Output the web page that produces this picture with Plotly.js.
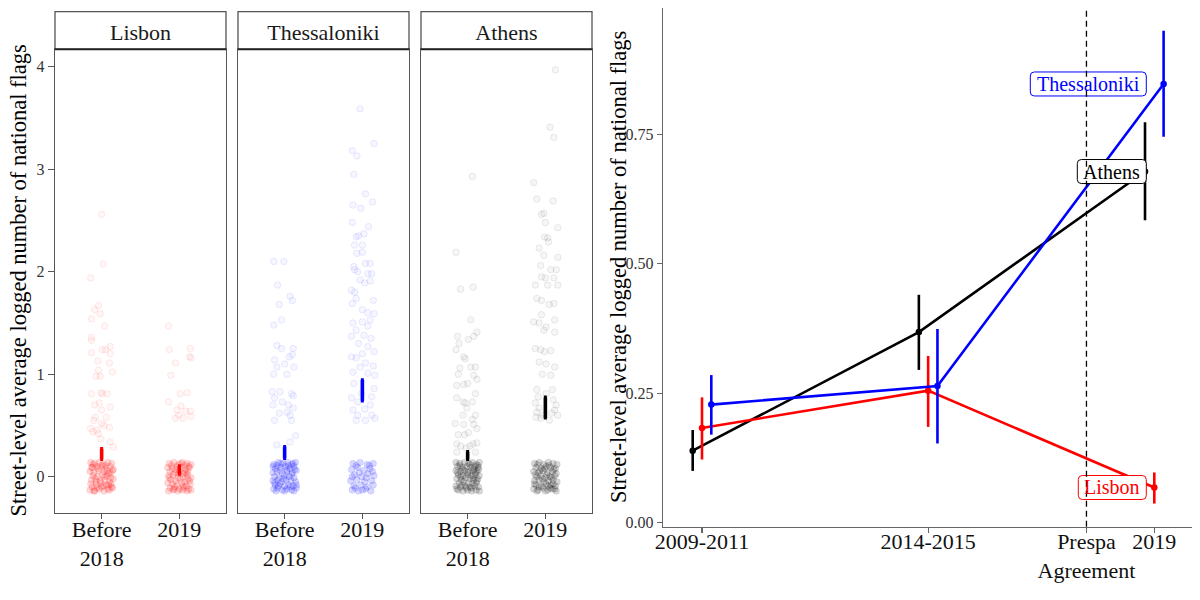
<!DOCTYPE html>
<html>
<head>
<meta charset="utf-8">
<script src="https://cdn.plot.ly/plotly-3.0.1.min.js"></script>
<style>html,body{margin:0;padding:0;background:#fff}#chart{width:1200px;height:600px}</style>
</head>
<body>
<div id="chart"></div>
<script>
// ---------------- DATA ----------------
const cities = ['Lisbon', 'Thessaloniki', 'Athens'];
const facetTickText = ['Before<br>2018', '2019'];

// Jittered street-level points: [horizontal jitter offset, value]
const lisbonBefore = [[0.0,2.56],[0.02,2.075],[-0.14,1.94],[-0.04,1.67],[-0.09,1.63],[-0.02,1.59],[-0.13,1.54],[0.04,1.47],[-0.13,1.36],[-0.13,1.33],[0.01,1.24],[0.05,1.24],[0.11,1.27],[-0.13,1.21],[0.11,1.2],[-0.05,1.13],[0.10,1.11],[-0.04,1.04],[0.14,1.02],[-0.07,0.98],[-0.02,0.98],[-0.13,0.81],[-0.01,0.82],[0.01,0.81],[0.07,0.81],[-0.03,0.72],[-0.09,0.70],[0.11,0.68],[0.0,0.65],[-0.08,0.58],[0.06,0.58],[-0.10,0.55],[0.03,0.50],[0.10,0.48],[-0.14,0.47],[-0.11,0.44],[-0.04,0.42],[-0.01,0.37],[0.11,0.34],[0.15,0.29],[-0.06,0.455],[0.0,0.52]];
const lisbon2019 = [[-0.14,1.47],[-0.13,1.24],[0.14,1.25],[0.13,1.17],[0.15,1.16],[-0.05,1.11],[-0.11,0.99],[0.01,0.81],[0.10,0.82],[-0.14,0.73],[0.02,0.69],[-0.03,0.65],[0.08,0.64],[0.14,0.64],[-0.05,0.57],[0.05,0.57],[0.15,0.59],[-0.01,0.60]];
const thessBefore = [[-0.14,2.10],[-0.01,2.10],[-0.09,1.87],[0.07,1.76],[0.10,1.72],[-0.07,1.68],[-0.04,1.53],[-0.14,1.48],[-0.10,1.28],[-0.04,1.25],[0.11,1.25],[-0.13,1.14],[0.06,1.17],[0.10,1.19],[0.0,1.10],[-0.10,1.07],[0.12,1.07],[-0.14,1.0],[0.03,1.0],[-0.16,0.83],[-0.06,0.83],[0.09,0.81],[0.11,0.79],[-0.13,0.77],[-0.03,0.73],[-0.15,0.70],[0.05,0.70],[0.11,0.67],[0.03,0.63],[-0.07,0.62],[0.07,0.60],[-0.13,0.55],[0.09,0.55],[0.14,0.40],[0.07,0.34],[-0.10,0.31]];
const thess2019 = [[-0.03,3.59],[0.15,3.25],[-0.13,3.18],[-0.07,3.13],[-0.11,2.95],[0.04,2.76],[0.13,2.68],[-0.12,2.65],[-0.02,2.62],[-0.13,2.48],[0.08,2.44],[0.02,2.37],[-0.08,2.34],[-0.05,2.35],[-0.10,2.26],[0.0,2.26],[-0.07,2.18],[0.0,2.19],[-0.11,2.05],[0.04,2.08],[0.10,2.08],[-0.10,2.02],[-0.06,2.0],[0.07,1.98],[0.12,1.98],[-0.03,1.92],[0.10,1.91],[0.03,1.89],[-0.14,1.82],[-0.10,1.80],[-0.08,1.74],[-0.13,1.69],[0.14,1.72],[0.0,1.63],[0.07,1.60],[0.15,1.59],[0.10,1.53],[-0.12,1.50],[0.0,1.51],[0.07,1.47],[-0.08,1.43],[-0.14,1.37],[0.02,1.38],[0.11,1.35],[-0.05,1.30],[0.07,1.27],[0.15,1.22],[-0.14,1.17],[-0.08,1.16],[0.0,1.20],[0.04,1.11],[0.14,1.08],[-0.03,1.07],[-0.12,1.02],[0.07,1.01],[0.16,0.99],[-0.11,0.91],[-0.14,0.77],[-0.06,0.73],[0.12,0.78],[0.10,0.70],[0.03,0.66],[-0.12,0.65],[-0.06,0.60],[0.12,0.60],[-0.08,0.55],[0.04,0.55],[0.16,0.57],[-0.01,0.81],[0.15,0.86]];
const athensBefore = [[0.06,2.93],[-0.15,2.19],[-0.09,1.83],[0.07,1.85],[0.04,1.53],[0.12,1.41],[-0.13,1.37],[0.08,1.37],[0.01,1.34],[-0.11,1.30],[-0.15,1.24],[-0.05,1.17],[-0.03,1.15],[0.04,1.07],[0.10,1.07],[-0.10,1.06],[-0.12,1.0],[0.08,0.99],[0.12,0.95],[-0.14,0.89],[-0.05,0.90],[0.0,0.91],[0.10,0.81],[-0.14,0.77],[-0.06,0.73],[-0.03,0.72],[0.06,0.73],[-0.01,0.67],[-0.06,0.60],[0.10,0.60],[0.06,0.56],[-0.16,0.52],[-0.05,0.51],[0.08,0.51],[0.12,0.47],[0.01,0.43],[-0.12,0.41],[-0.04,0.41],[-0.14,0.32],[-0.09,0.30],[0.07,0.32],[0.12,0.33],[0.03,0.30],[-0.02,0.28],[-0.14,0.24],[0.10,0.24]];
const athens2019 = [[0.13,3.97],[0.06,3.41],[0.11,3.31],[-0.15,2.87],[-0.11,2.71],[0.10,2.69],[-0.05,2.56],[-0.02,2.57],[0.0,2.48],[0.16,2.43],[-0.01,2.34],[0.03,2.33],[0.04,2.29],[-0.08,2.23],[-0.02,2.16],[0.16,2.14],[-0.06,2.06],[0.07,2.02],[0.14,2.02],[-0.05,1.95],[0.0,1.94],[0.11,1.94],[-0.13,1.87],[0.03,1.87],[0.16,1.87],[-0.11,1.74],[-0.05,1.72],[0.05,1.68],[0.11,1.69],[-0.05,1.58],[-0.15,1.51],[-0.08,1.50],[0.01,1.46],[0.12,1.53],[-0.02,1.43],[0.12,1.41],[-0.13,1.25],[-0.06,1.24],[-0.01,1.22],[0.07,1.23],[-0.08,1.12],[0.01,1.10],[0.12,1.07],[-0.04,1.0],[0.07,0.99],[-0.11,0.85],[0.09,0.85],[0.01,0.81],[-0.13,0.72],[-0.08,0.67],[0.14,0.70],[0.16,0.60],[-0.06,0.57],[0.05,0.55],[-0.11,0.63],[0.12,0.65],[-0.03,0.60],[0.08,0.62],[-0.12,0.58],[0.10,0.75],[-0.09,0.78]];

// Streets with zero flags (value 0, jittered) - dense clusters, estimated
const lisbonBeforeZero = [[-0.14,0.14],[-0.09,0.13],[-0.03,0.14],[0.02,0.12],[0.08,0.14],[0.13,0.13],[-0.12,0.09],[-0.06,0.1],[0.0,0.11],[0.05,0.08],[0.11,0.1],[0.15,0.07],[-0.15,0.05],[-0.1,0.04],[-0.04,0.06],[0.03,0.05],[0.09,0.03],[0.14,0.06],[-0.11,0.01],[-0.05,0.0],[0.01,0.02],[0.07,0.01],[0.12,-0.01],[-0.13,-0.03],[-0.08,-0.02],[-0.02,-0.04],[0.04,-0.03],[0.1,-0.05],[0.15,-0.02],[-0.14,-0.07],[-0.07,-0.08],[-0.01,-0.06],[0.06,-0.08],[0.12,-0.07],[-0.12,-0.1],[-0.06,-0.11],[0.02,-0.09],[0.08,-0.12],[0.13,-0.1],[-0.15,-0.13],[-0.09,-0.14],[-0.03,-0.12],[0.03,-0.14],[0.1,-0.13],[-0.11,0.12],[-0.04,0.08],[0.05,0.11],[0.11,0.04],[-0.13,0.09],[-0.07,-0.05],[0.0,-0.1],[0.07,0.06],[0.14,-0.11],[-0.1,-0.14],[0.04,0.0],[0.09,-0.08]];
const lisbon2019Zero = [[-0.13,0.13],[-0.07,0.14],[-0.01,0.12],[0.04,0.14],[0.1,0.13],[0.15,0.12],[-0.15,0.09],[-0.09,0.08],[-0.03,0.1],[0.03,0.09],[0.08,0.07],[0.13,0.09],[-0.12,0.05],[-0.06,0.04],[0.0,0.06],[0.06,0.03],[0.11,0.05],[-0.14,0.01],[-0.08,0.02],[-0.02,-0.01],[0.05,0.0],[0.1,0.02],[0.15,-0.01],[-0.11,-0.03],[-0.05,-0.04],[0.01,-0.02],[0.07,-0.05],[0.13,-0.04],[-0.15,-0.06],[-0.09,-0.07],[-0.03,-0.08],[0.03,-0.06],[0.09,-0.09],[0.14,-0.07],[-0.12,-0.11],[-0.06,-0.1],[0.0,-0.12],[0.06,-0.11],[0.12,-0.12],[-0.14,-0.14],[-0.08,-0.13],[-0.02,-0.14],[0.04,-0.13],[0.1,-0.14],[-0.1,0.11],[0.02,0.13],[0.12,0.1],[-0.04,0.07],[0.08,0.04],[-0.13,-0.01],[0.11,-0.02],[-0.07,-0.12],[0.05,-0.09],[0.15,-0.13],[-0.01,0.03],[0.07,0.11]];
const thessBeforeZero = [[-0.14,0.12],[-0.08,0.14],[-0.02,0.13],[0.04,0.14],[0.09,0.12],[0.14,0.14],[-0.12,0.08],[-0.05,0.09],[0.01,0.1],[0.07,0.08],[0.12,0.1],[-0.15,0.04],[-0.1,0.05],[-0.03,0.03],[0.03,0.05],[0.1,0.04],[0.15,0.06],[-0.13,0.0],[-0.07,-0.01],[0.0,0.01],[0.06,0.0],[0.12,-0.01],[-0.15,-0.04],[-0.09,-0.03],[-0.04,-0.05],[0.02,-0.03],[0.08,-0.04],[0.14,-0.05],[-0.12,-0.08],[-0.06,-0.07],[0.0,-0.09],[0.05,-0.08],[0.11,-0.09],[-0.14,-0.12],[-0.09,-0.11],[-0.03,-0.13],[0.03,-0.12],[0.09,-0.13],[0.15,-0.11],[-0.11,-0.14],[0.0,-0.14],[0.12,-0.14],[-0.1,0.11],[0.05,0.11],[-0.06,0.06],[0.13,0.07],[-0.01,-0.02],[0.09,0.02],[-0.13,-0.06],[0.07,-0.1],[-0.05,0.13],[0.11,0.13],[-0.08,-0.09],[0.03,0.07],[-0.15,0.1],[0.15,-0.08]];
const thess2019Zero = [[-0.12,0.13],[-0.03,0.14],[0.06,0.12],[0.14,0.13],[-0.14,0.07],[-0.06,0.09],[0.02,0.06],[0.1,0.08],[-0.1,0.02],[-0.01,0.0],[0.07,0.03],[0.15,0.01],[-0.15,-0.04],[-0.07,-0.03],[0.03,-0.05],[0.12,-0.04],[-0.11,-0.09],[-0.02,-0.08],[0.06,-0.1],[0.14,-0.08],[-0.13,-0.13],[-0.05,-0.14],[0.04,-0.12],[0.11,-0.14],[-0.08,0.11],[0.09,0.11],[-0.04,0.04],[0.05,-0.01],[-0.09,-0.11],[0.0,-0.13],[0.13,0.05],[-0.13,0.0]];
const athensBeforeZero = [[-0.15,0.14],[-0.1,0.13],[-0.04,0.14],[0.01,0.13],[0.06,0.14],[0.11,0.12],[0.15,0.14],[-0.13,0.1],[-0.07,0.09],[-0.01,0.1],[0.04,0.09],[0.09,0.1],[0.14,0.09],[-0.15,0.06],[-0.09,0.05],[-0.04,0.06],[0.02,0.05],[0.07,0.06],[0.12,0.05],[-0.12,0.02],[-0.06,0.01],[0.0,0.02],[0.05,0.01],[0.1,0.02],[0.15,0.01],[-0.14,-0.02],[-0.08,-0.03],[-0.03,-0.01],[0.03,-0.02],[0.08,-0.03],[0.13,-0.02],[-0.11,-0.06],[-0.05,-0.05],[0.01,-0.06],[0.06,-0.07],[0.11,-0.06],[-0.15,-0.09],[-0.09,-0.1],[-0.03,-0.09],[0.03,-0.1],[0.09,-0.09],[0.14,-0.1],[-0.12,-0.13],[-0.06,-0.14],[0.0,-0.13],[0.05,-0.14],[0.11,-0.13],[0.15,-0.14],[-0.1,0.11],[0.03,0.12],[0.13,0.11],[-0.06,0.07],[0.08,0.07],[-0.13,0.04],[0.0,0.04],[0.12,-0.04],[-0.07,-0.08],[0.05,-0.11],[-0.14,-0.12],[0.1,0.04],[-0.02,-0.11],[0.07,-0.01],[-0.09,0.0],[0.14,0.07]];
const athens2019Zero = [[-0.14,0.13],[-0.08,0.14],[-0.02,0.12],[0.04,0.14],[0.1,0.13],[0.15,0.12],[-0.12,0.09],[-0.05,0.08],[0.01,0.1],[0.07,0.09],[0.13,0.08],[-0.15,0.05],[-0.09,0.04],[-0.03,0.06],[0.03,0.04],[0.09,0.05],[0.14,0.03],[-0.11,0.0],[-0.06,0.01],[0.0,-0.01],[0.06,0.0],[0.12,0.01],[-0.14,-0.04],[-0.08,-0.03],[-0.02,-0.05],[0.04,-0.04],[0.1,-0.03],[0.15,-0.05],[-0.12,-0.08],[-0.05,-0.09],[0.01,-0.07],[0.07,-0.08],[0.13,-0.09],[-0.15,-0.12],[-0.09,-0.13],[-0.03,-0.11],[0.03,-0.13],[0.09,-0.12],[0.14,-0.14],[-0.11,-0.14],[0.0,-0.14],[0.06,-0.11],[-0.1,0.12],[0.05,0.11],[-0.07,0.06],[0.11,0.07],[-0.13,0.02],[0.02,0.02],[0.1,-0.07],[-0.04,-0.02],[-0.08,-0.1],[0.12,-0.12],[-0.01,0.08],[0.08,-0.01],[-0.14,-0.07],[0.04,-0.09]];

// Facet means and 95% CIs: [Before 2018, 2019]
const lisbonFacetMean = [0.222, 0.065];
const lisbonFacetLo   = [0.170, 0.026];
const lisbonFacetHi   = [0.273, 0.104];
const thessFacetMean  = [0.236, 0.843];
const thessFacetLo    = [0.180, 0.742];
const thessFacetHi    = [0.293, 0.943];
const athensFacetMean = [0.207, 0.675];
const athensFacetLo   = [0.170, 0.576];
const athensFacetHi   = [0.244, 0.774];

// Right panel: period means with CIs
const periodX = [2010, 2014.5, 2019];
const prespaX = 2017.65;
const rightTickVals = [2010, 2014.5, 2017.65, 2019];
const rightTickText = ['2009-2011', '2014-2015', 'Prespa<br>Agreement', '2019'];
const athensY  = [0.139, 0.368, 0.678];
const athensLo = [0.100, 0.295, 0.584];
const athensHi = [0.179, 0.440, 0.773];
const lisbonY  = [0.183, 0.255, 0.068];
const lisbonLo = [0.122, 0.185, 0.037];
const lisbonHi = [0.242, 0.322, 0.097];
const thessY   = [0.228, 0.264, 0.847];
const thessLo  = [0.170, 0.153, 0.745];
const thessHi  = [0.285, 0.374, 0.950];

// ---------------- STYLE ----------------
const FONT = '"Liberation Serif", "Times New Roman", Times, serif';
const rgbOf = {Lisbon: '255,0,0', Thessaloniki: '0,0,255', Athens: '0,0,0'};
const colOf = {Lisbon: '#ff0000', Thessaloniki: '#0000ff', Athens: '#000000'};
const BORDER = '#555555';

const facetNonZero = {Lisbon: [lisbonBefore, lisbon2019], Thessaloniki: [thessBefore, thess2019], Athens: [athensBefore, athens2019]};
const facetZero = {Lisbon: [lisbonBeforeZero, lisbon2019Zero], Thessaloniki: [thessBeforeZero, thess2019Zero], Athens: [athensBeforeZero, athens2019Zero]};
const facetMean = {Lisbon: lisbonFacetMean, Thessaloniki: thessFacetMean, Athens: athensFacetMean};
const facetLo = {Lisbon: lisbonFacetLo, Thessaloniki: thessFacetLo, Athens: athensFacetLo};
const facetHi = {Lisbon: lisbonFacetHi, Thessaloniki: thessFacetHi, Athens: athensFacetHi};

const facetDomains = [[55/1200, 226/1200], [238/1200, 409/1200], [421/1200, 592/1200]];
const facetYDomain = [1 - 512.5/600, 1 - 49.3/600];
const stripTop = 1 - 11.7/600;

const traces = [];
const layout = {
  width: 1200, height: 600,
  margin: {l: 0, r: 0, t: 0, b: 0},
  paper_bgcolor: '#fff', plot_bgcolor: '#fff',
  showlegend: false,
  font: {family: FONT, color: '#000'},
  shapes: [], annotations: []
};

cities.forEach((city, i) => {
  const s = i === 0 ? '' : String(i + 1);
  const xa = 'x' + s, ya = 'y' + s;
  [0, 1].forEach(j => {
    const z = facetZero[city][j];
    traces.push({
      type: 'scatter', mode: 'markers', xaxis: xa, yaxis: ya, hoverinfo: 'skip',
      x: z.map(p => j + 1 + p[0]), y: z.map(p => p[1]),
      marker: {size: 6.5, color: 'rgba(' + rgbOf[city] + ',0.15)', line: {color: 'rgba(' + rgbOf[city] + ',0.09)', width: 1}}
    });
    const nz = facetNonZero[city][j];
    traces.push({
      type: 'scatter', mode: 'markers', xaxis: xa, yaxis: ya, hoverinfo: 'skip',
      x: nz.map(p => j + 1 + p[0]), y: nz.map(p => p[1]),
      marker: {size: 6.5, color: 'rgba(' + rgbOf[city] + ',0.035)', line: {color: 'rgba(' + rgbOf[city] + ',0.08)', width: 1}}
    });
  });
  const m = facetMean[city];
  traces.push({
    type: 'scatter', mode: 'markers', xaxis: xa, yaxis: ya, hoverinfo: 'skip',
    x: [1, 2], y: m,
    marker: {size: 1, color: 'rgba(0,0,0,0)'},
    error_y: {type: 'data', symmetric: false,
      array: facetHi[city].map((v, k) => v - m[k]),
      arrayminus: m.map((v, k) => v - facetLo[city][k]),
      color: colOf[city], thickness: 3.6, width: 1.5}
  });

  layout['xaxis' + s] = {
    domain: facetDomains[i], anchor: ya, range: [0.4, 2.6],
    tickvals: [1, 2], ticktext: facetTickText, tickangle: 0,
    showline: true, mirror: true, linecolor: BORDER, linewidth: 1.3,
    ticks: 'outside', ticklen: 5, tickwidth: 1.2, tickcolor: BORDER,
    ticklabelstandoff: -8,
    tickfont: {family: FONT, size: 22, color: '#111'},
    showgrid: false, zeroline: false, fixedrange: true
  };
  layout['yaxis' + s] = {
    domain: facetYDomain, anchor: xa, range: [-0.349, 4.17],
    tickvals: [0, 1, 2, 3, 4], ticktext: ['0', '1', '2', '3', '4'],
    showticklabels: i === 0, ticks: i === 0 ? 'outside' : '',
    ticklen: 6, tickwidth: 1.2, tickcolor: BORDER,
    tickfont: {family: FONT, size: 16, color: '#333'},
    showline: true, mirror: true, linecolor: BORDER, linewidth: 1.3,
    showgrid: false, zeroline: false, fixedrange: true
  };

  // facet strip
  layout.shapes.push({
    type: 'rect', xref: 'paper', yref: 'paper',
    x0: facetDomains[i][0], x1: facetDomains[i][1], y0: facetYDomain[1], y1: stripTop,
    fillcolor: '#fff', line: {color: BORDER, width: 1.3}, layer: 'above',
    label: {text: city, font: {family: FONT, size: 22, color: '#1a1a1a'}, textposition: 'middle center'}
  });
  layout.shapes.push({
    type: 'line', xref: 'paper', yref: 'paper',
    x0: facetDomains[i][0], x1: facetDomains[i][1], y0: facetYDomain[1], y1: facetYDomain[1],
    line: {color: '#222', width: 2}, layer: 'above'
  });
});

// Right panel series
const rightSeries = [
  {name: 'Athens', y: athensY, lo: athensLo, hi: athensHi, dodge: -0.185, boxW: 69},
  {name: 'Lisbon', y: lisbonY, lo: lisbonLo, hi: lisbonHi, dodge: 0, boxW: 68},
  {name: 'Thessaloniki', y: thessY, lo: thessLo, hi: thessHi, dodge: 0.185, boxW: 116}
];
rightSeries.forEach(sr => {
  traces.push({
    type: 'scatter', mode: 'lines+markers', xaxis: 'x4', yaxis: 'y4', hoverinfo: 'skip',
    x: periodX.map(v => v + sr.dodge), y: sr.y,
    line: {color: colOf[sr.name], width: 2.6},
    marker: {color: colOf[sr.name], size: 6.5},
    error_y: {type: 'data', symmetric: false,
      array: sr.hi.map((v, k) => v - sr.y[k]),
      arrayminus: sr.y.map((v, k) => v - sr.lo[k]),
      color: colOf[sr.name], thickness: 2.6, width: 0}
  });
});

layout.xaxis4 = {
  domain: [663/1200, 1192/1200], anchor: 'y4', range: [2009.224, 2019.75],
  tickvals: rightTickVals, ticktext: rightTickText, tickangle: 0,
  showline: true, linecolor: '#666', linewidth: 1.3,
  ticks: 'outside', ticklen: 5, tickwidth: 1.2, tickcolor: '#666',
  ticklabelstandoff: -10,
  tickfont: {family: FONT, size: 22, color: '#111'},
  showgrid: false, zeroline: false, fixedrange: true
};
layout.yaxis4 = {
  domain: [1 - 526.7/600, 1 - 8.3/600], anchor: 'x4', range: [-0.0077, 0.9931],
  tickvals: [0, 0.25, 0.5, 0.75], ticktext: ['0.00', '0.25', '0.50', '0.75'],
  showline: true, linecolor: '#666', linewidth: 1.3,
  ticks: 'outside', ticklen: 5, tickwidth: 1.2, tickcolor: '#666',
  tickfont: {family: FONT, size: 16, color: '#333'},
  showgrid: false, zeroline: false, fixedrange: true
};

// City labels at the 2019 point: rounded box (shape) + text (annotation)
function roundedBox(x0, x1, y0, y1, r) {
  return 'M ' + (x0 + r) + ',' + y0 + ' L ' + (x1 - r) + ',' + y0 + ' Q ' + x1 + ',' + y0 + ' ' + x1 + ',' + (y0 + r) +
    ' L ' + x1 + ',' + (y1 - r) + ' Q ' + x1 + ',' + y1 + ' ' + (x1 - r) + ',' + y1 +
    ' L ' + (x0 + r) + ',' + y1 + ' Q ' + x0 + ',' + y1 + ' ' + x0 + ',' + (y1 - r) +
    ' L ' + x0 + ',' + (y0 + r) + ' Q ' + x0 + ',' + y0 + ' ' + (x0 + r) + ',' + y0 + ' Z';
}
rightSeries.forEach(sr => {
  layout.shapes.push({
    type: 'path', xref: 'x4', yref: 'y4', xsizemode: 'pixel', ysizemode: 'pixel',
    xanchor: periodX[2], yanchor: sr.y[2],
    path: roundedBox(-8 - sr.boxW, -8, -12, 12, 4),
    fillcolor: '#fff', line: {color: colOf[sr.name], width: 1}, layer: 'above'
  });
  layout.annotations.push({
    xref: 'x4', yref: 'y4', x: periodX[2], y: sr.y[2], xshift: -8 - sr.boxW / 2,
    text: sr.name, showarrow: false, xanchor: 'center', yanchor: 'middle',
    font: {family: FONT, size: 20, color: colOf[sr.name]}
  });
});

// Prespa Agreement dashed line (drawn over the label boxes)
layout.shapes.push({
  type: 'line', xref: 'x4', yref: 'y4 domain', x0: prespaX, x1: prespaX, y0: 0, y1: 1,
  line: {color: '#000', width: 1.3, dash: '6px,4px'}, layer: 'above'
});

// Axis titles
const yTitle = 'Street-level average logged number of national flags';
layout.annotations.push({
  xref: 'paper', yref: 'paper', x: 18.5/1200, y: 1 - 281/600, text: yTitle, textangle: -90,
  showarrow: false, xanchor: 'center', yanchor: 'middle', font: {family: FONT, size: 22.5, color: '#000'}
});
layout.annotations.push({
  xref: 'paper', yref: 'paper', x: 618.5/1200, y: 1 - 267.5/600, text: yTitle, textangle: -90,
  showarrow: false, xanchor: 'center', yanchor: 'middle', font: {family: FONT, size: 22.5, color: '#000'}
});

Plotly.newPlot('chart', traces, layout, {staticPlot: true, displayModeBar: false});
</script>
</body>
</html>
